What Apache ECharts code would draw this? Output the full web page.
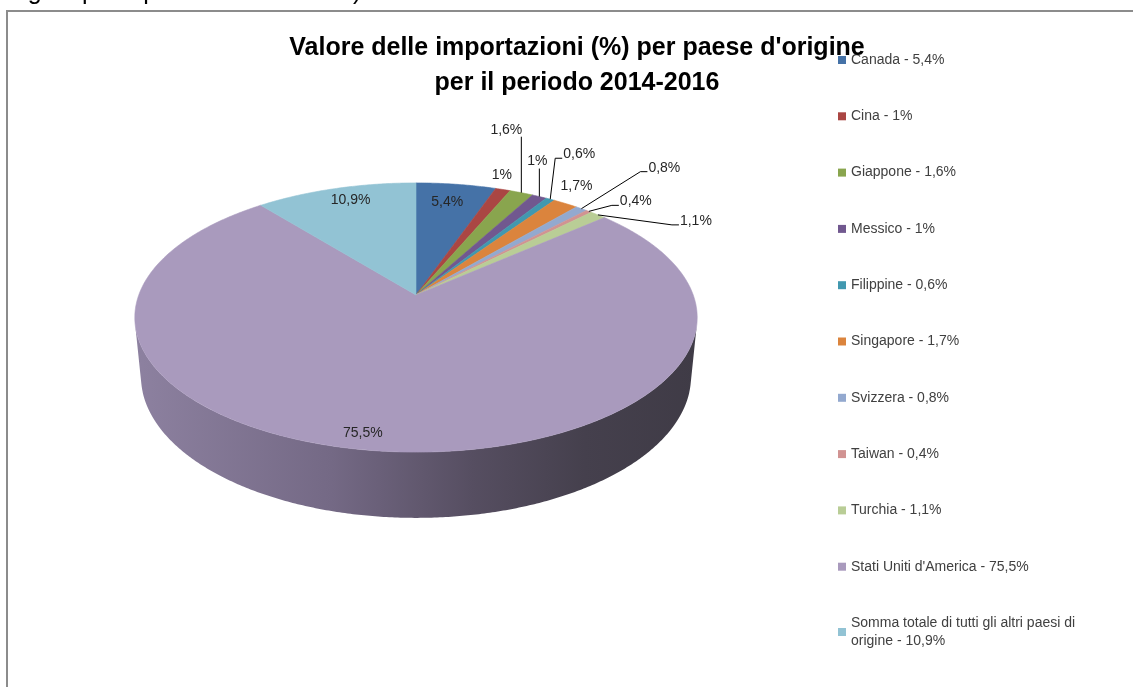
<!DOCTYPE html>
<html>
<head>
<meta charset="utf-8">
<title>Valore delle importazioni (%) per paese d'origine</title>
<script src="https://cdn.jsdelivr.net/npm/echarts@6/dist/echarts.min.js"></script>
<style>
  html, body { margin: 0; padding: 0; background: #fff; }
  #chart { width: 1133px; height: 687px; }
</style>
</head>
<body>
<div id="chart"></div>
<script>
// data
const countries = [
  'Canada', 'Cina', 'Giappone', 'Messico', 'Filippine', 'Singapore',
  'Svizzera', 'Taiwan', 'Turchia', "Stati Uniti d'America",
  'Somma totale di tutti gli altri paesi di origine'
];
const shares = [5.4, 1, 1.6, 1, 0.6, 1.7, 0.8, 0.4, 1.1, 75.5, 10.9];
const colors = [
  '#4572A7', '#AA4643', '#89A54E', '#71588F', '#4198AF', '#DB843D',
  '#93A9CF', '#D19392', '#B9CD96', '#A99ABD', '#92C3D4'
];

// where each data label sits, relative to the rim point of its slice
const labelPlace = [
  { dx: -9, dy: 18 },                 // Canada
  { dx: -1, dy: -14 },                // Cina
  { dx: -15, dy: -63, line: 'up' },   // Giappone
  { dx: -2, dy: -35, line: 'up' },    // Messico
  { dx: 13, dy: -45, line: 'side' },  // Filippine
  { dx: 11, dy: -17 },                // Singapore
  { dx: 67, dy: -41, line: 'side' },  // Svizzera
  { dx: 31, dy: -10, line: 'side' },  // Taiwan
  { dx: 82, dy: 6, line: 'side' },    // Turchia
  { dx: -25, dy: -18 },               // Stati Uniti
  { dx: 15, dy: 12 }                  // altri
];

const FONT = "'Liberation Sans', Arial, sans-serif";
const fmt = (v) => String(v).replace('.', ',') + '%';

// tilted pie, seen in perspective like the Excel 3D pie
const CX = 416, CY = 295, F = 1461, D = 5.27;
const TILT = 28.16 * Math.PI / 180;
const SA = Math.sin(TILT), CA = Math.cos(TILT);
const THICK = 0.244;
const VIS0 = Math.acos(-1 / (D * CA)) * 180 / Math.PI; // side faces viewer between VIS0 and 360-VIS0
const VIS1 = 360 - VIS0;

function proj(deg, r, h) {
  const t = deg * Math.PI / 180;
  const x = Math.sin(t) * r, z = Math.cos(t) * r;
  const depth = D + z * CA - h * SA;
  const up = h * CA + z * SA;
  return [CX + F * x / depth, CY - F * up / depth];
}

function rim(a0, a1, h) {
  const pts = [];
  const n = Math.max(2, Math.ceil((a1 - a0) / 0.5));
  for (let k = 0; k <= n; k++) pts.push(proj(a0 + (a1 - a0) * k / n, 1, h));
  return pts;
}

const total = shares.reduce((s, v) => s + v, 0);
const starts = [];
let acc = 0;
shares.forEach((v) => { starts.push(acc); acc += v; });

const sideFill = new echarts.graphic.LinearGradient(0, 0, 1, 0, [
  { offset: 0, color: '#8d81a0' },
  { offset: 0.35, color: '#746985' },
  { offset: 0.6, color: '#564e61' },
  { offset: 0.8, color: '#45404d' },
  { offset: 1, color: '#3f3b46' }
]);

function renderSlice(i, start, value) {
  const a0 = start / total * 360;
  const a1 = (start + value) / total * 360;
  const children = [];

  // front wall
  const lo = Math.max(a0, VIS0), hi = Math.min(a1, VIS1);
  if (hi > lo) {
    const top = rim(lo, hi, 0);
    const bottom = rim(lo, hi, -THICK).reverse();
    children.push({
      type: 'polygon',
      shape: { points: top.concat(bottom) },
      style: { fill: sideFill, stroke: null }
    });
  }

  // top face
  children.push({
    type: 'polygon',
    shape: { points: [proj(0, 0, 0)].concat(rim(a0, a1, 0)) },
    style: { fill: colors[i], stroke: colors[i], lineWidth: 0.6 }
  });

  // label
  const p = labelPlace[i];
  const anchor = proj((a0 + a1) / 2, 1, 0);
  const lx = anchor[0] + p.dx, ly = anchor[1] + p.dy;
  children.push({
    type: 'text',
    z2: 100,
    style: {
      text: fmt(shares[i]), x: lx, y: ly,
      align: p.line === 'side' ? 'left' : 'center', verticalAlign: 'middle',
      fill: '#262626', font: '14px ' + FONT
    }
  });
  if (p.line) {
    const pts = p.line === 'up'
      ? [anchor, [anchor[0], ly + 7]]
      : [anchor, [lx - 8, ly + 4], [lx - 1, ly + 4]];
    children.push({
      type: 'polyline',
      z2: 100,
      shape: { points: pts },
      style: { stroke: '#000', lineWidth: 1, fill: null }
    });
  }
  return { type: 'group', children };
}

const chart = echarts.init(document.getElementById('chart'));
chart.setOption({
  animation: false,
  backgroundColor: '#fff',
  title: {
    text: "Valore delle importazioni (%) per paese d'origine\nper il periodo 2014-2016",
    left: 577,
    top: 31,
    padding: 0,
    textAlign: 'center',
    textStyle: { fontFamily: FONT, fontSize: 25, fontWeight: 'bold', lineHeight: 35, color: '#000' }
  },
  legend: {
    orient: 'vertical',
    left: 833,
    top: 46,
    icon: 'rect',
    itemWidth: 8,
    itemHeight: 8,
    itemGap: 38.3,
    data: countries,
    formatter: (name) => name + ' - ' + fmt(shares[countries.indexOf(name)]),
    textStyle: { fontFamily: FONT, fontSize: 14, lineHeight: 18, color: '#404040', width: 245, overflow: 'break' }
  },
  graphic: [
    {
      type: 'text', left: 0, top: -20, silent: true,
      style: { text: 'origine per il periodo 2014-2016).', fill: '#000', font: '25px ' + FONT }
    },
    {
      type: 'rect', silent: true,
      shape: { x: 7, y: 11, width: 1200, height: 800 },
      style: { fill: null, stroke: '#8c8c8c', lineWidth: 2 }
    }
  ],
  series: countries.map((name, i) => ({
    type: 'custom',
    name,
    coordinateSystem: 'none',
    itemStyle: { color: colors[i] },
    data: [[starts[i], shares[i]]],
    renderItem: (params, api) => renderSlice(i, api.value(0), api.value(1))
  }))
});
</script>
</body>
</html>
